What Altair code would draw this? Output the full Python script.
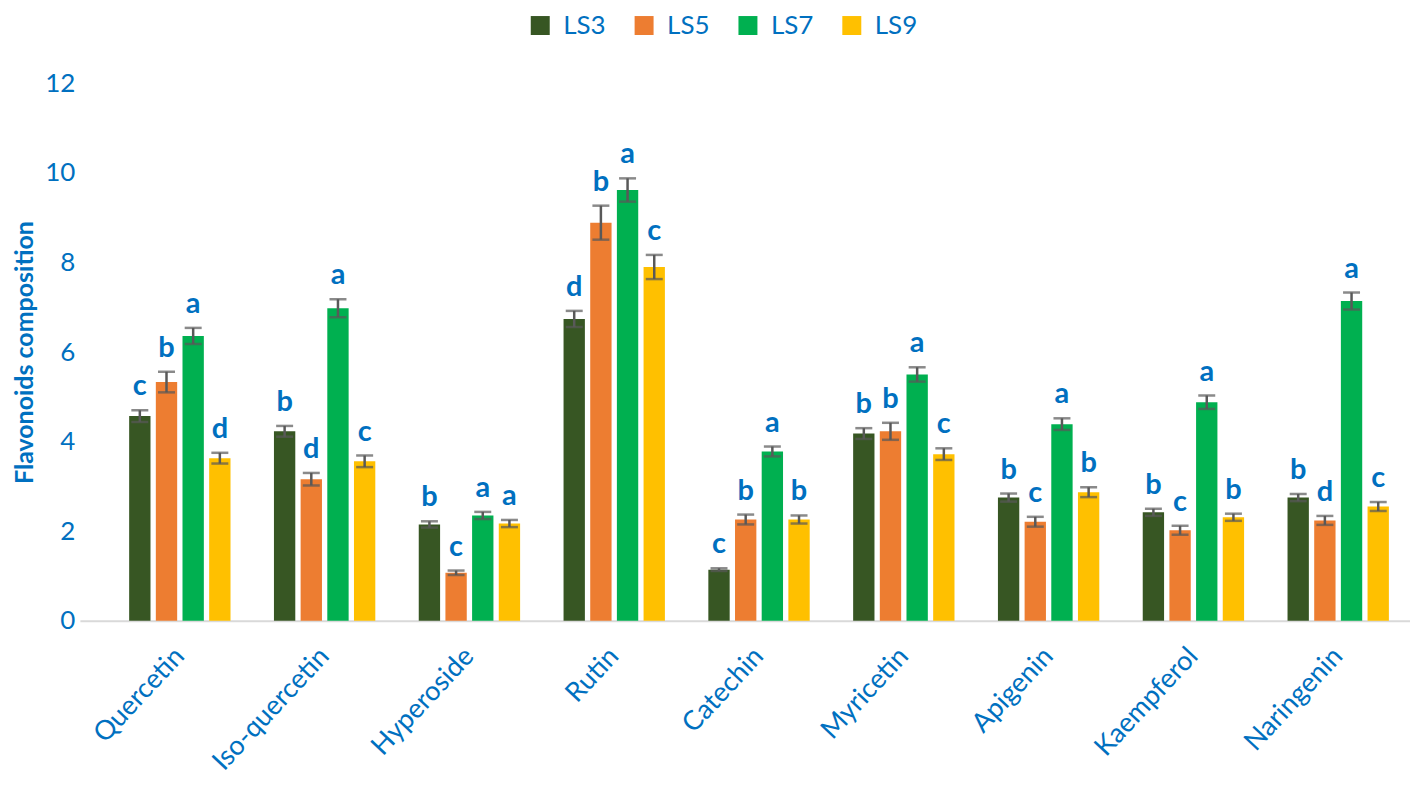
import altair as alt
import pandas as pd

compounds = ["Quercetin", "Iso-quercetin", "Hyperoside", "Rutin", "Catechin",
             "Myricetin", "Apigenin", "Kaempferol", "Naringenin"]
series = ["LS3", "LS5", "LS7", "LS9"]
colors = ["#375623", "#ED7D31", "#00B050", "#FFC000"]

ls3 = [4.57, 4.23, 2.15, 6.74, 1.14, 4.18, 2.75, 2.42, 2.75]
ls5 = [5.33, 3.16, 1.07, 8.89, 2.26, 4.23, 2.21, 2.02, 2.24]
ls7 = [6.36, 6.98, 2.35, 9.62, 3.78, 5.50, 4.39, 4.88, 7.14]
ls9 = [3.63, 3.56, 2.17, 7.90, 2.26, 3.72, 2.87, 2.31, 2.55]

err3 = [0.13, 0.12, 0.07, 0.18, 0.03, 0.12, 0.09, 0.08, 0.08]
err5 = [0.23, 0.14, 0.05, 0.38, 0.11, 0.19, 0.11, 0.10, 0.10]
err7 = [0.18, 0.20, 0.08, 0.26, 0.11, 0.16, 0.13, 0.15, 0.19]
err9 = [0.12, 0.13, 0.08, 0.27, 0.09, 0.13, 0.11, 0.08, 0.10]

let3 = ["c", "b", "b", "d", "c", "b", "b", "b", "b"]
let5 = ["b", "d", "c", "b", "b", "b", "c", "c", "d"]
let7 = ["a", "a", "a", "a", "a", "a", "a", "a", "a"]
let9 = ["d", "c", "a", "c", "b", "c", "b", "b", "c"]

y_ticks = [0, 2, 4, 6, 8, 10, 12]

rows = []
for s, vals, errs, lets in zip(series, [ls3, ls5, ls7, ls9],
                               [err3, err5, err7, err9],
                               [let3, let5, let7, let9]):
    for c, v, e, l in zip(compounds, vals, errs, lets):
        rows.append({"compound": c, "series": s, "value": v,
                     "lo": v - e, "hi": v + e, "letter": l})
df = pd.DataFrame(rows)

BLUE = "#0070C0"
FONT = "Lato"

x_enc = alt.X("compound:N", sort=compounds,
              scale=alt.Scale(paddingInner=0.3, paddingOuter=0.243, align=0.7),
              axis=alt.Axis(title=None, labelAngle=-47, labelAlign="right",
                            labelBaseline="middle", labelFontSize=27,
                            labelColor=BLUE, labelFont=FONT, labelPadding=31,
                            ticks=False, domain=True, domainColor="#D9D9D9",
                            domainWidth=2))
xo_enc = alt.XOffset("series:N", sort=series,
                     scale=alt.Scale(paddingInner=0.2, paddingOuter=0))
y_scale = alt.Scale(domain=[0, 12], nice=False)

base = alt.Chart(df)

bars = base.mark_bar().encode(
    x=x_enc,
    xOffset=xo_enc,
    y=alt.Y("value:Q", scale=y_scale,
            axis=alt.Axis(values=y_ticks, grid=False, ticks=False, domain=False,
                          labelFontSize=26, labelColor=BLUE, labelFont=FONT,
                          labelPadding=5, title="Flavonoids composition",
                          titleFontSize=25, titleFont=FONT, titleColor=BLUE,
                          titleFontWeight="bold", titleAngle=-90,
                          titleX=-47, titleY=269, titleAlign="center",
                          titleBaseline="alphabetic")),
    color=alt.Color("series:N", sort=series,
                    scale=alt.Scale(domain=series, range=colors),
                    legend=alt.Legend(orient="none", legendX=448, legendY=-71,
                                      direction="horizontal", title=None,
                                      symbolType="square", symbolSize=361,
                                      symbolStrokeWidth=0, labelFontSize=26,
                                      labelColor=BLUE, labelFont=FONT,
                                      labelOffset=10, columnPadding=25)),
)

rules = base.mark_rule(color="#595959", strokeWidth=2.5).encode(
    x=x_enc, xOffset=xo_enc,
    y=alt.Y("lo:Q", scale=y_scale), y2="hi:Q")

cap_hi = base.mark_tick(color="#595959", thickness=2.5, size=17,
                        orient="horizontal").encode(
    x=x_enc, xOffset=xo_enc, y=alt.Y("hi:Q", scale=y_scale))
cap_lo = base.mark_tick(color="#595959", thickness=2.5, size=17,
                        orient="horizontal").encode(
    x=x_enc, xOffset=xo_enc, y=alt.Y("lo:Q", scale=y_scale))

letters = base.mark_text(dy=-15, baseline="alphabetic", fontSize=29,
                         fontWeight="bold", font=FONT, color=BLUE).encode(
    x=x_enc, xOffset=xo_enc, y=alt.Y("hi:Q", scale=y_scale), text="letter:N")

chart = alt.layer(bars, rules, cap_hi, cap_lo, letters).properties(
    width=1332, height=538,
    autosize=alt.AutoSizeParams(type="none"),
    padding={"left": 72, "top": 75, "right": 0, "bottom": 164},
).configure_view(stroke=None)

chart.save("out.html", embed_options={"renderer": "svg", "actions": False})
